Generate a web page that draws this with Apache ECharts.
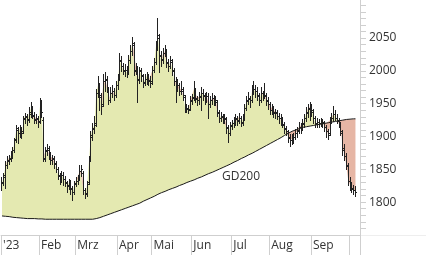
<!DOCTYPE html>
<html>
<head>
<meta charset="utf-8">
<script src="https://cdn.jsdelivr.net/npm/echarts/dist/echarts.min.js"></script>
<style>
html,body{margin:0;padding:0;background:#fff;}
#c{width:426px;height:255px;}
</style>
</head>
<body>
<div id="c"></div>
<script>
// Month labels and trading days per month (Jan 2023 .. early Oct 2023)
const monthLabels = ["'23","Feb","Mrz","Apr","Mai","Jun","Jul","Aug","Sep",""];
const monthDays = [21,20,23,19,22,22,21,23,21,6];

const openVals = [
1822,1830,1838,1857,1862,1866,1872,1880,1896,1910,
1905,1911,1908,1926,1930,1926,1935,1941,1933,1926,
1927,1924,1945,1925,1866,1878,1880,1872,1864,1866,
1858,1850,1840,1834,1842,1835,1829,1826,1829,1820,
1816,1829,1832,1837,1848,1845,1818,1814,1830,1866,
1900,1912,1920,1966,1976,1960,1950,1984,1986,1972,
1956,1966,1969,1964,1979,1990,2015,2007,2000,2002,
1999,2016,2030,2040,2000,2003,1986,2000,1992,1983,
1988,1992,1986,1984,2002,2014,2040,2050,2022,2018,
2028,2030,2012,2008,2014,2000,1984,1976,1978,1970,
1972,1960,1944,1942,1942,1954,1960,1970,1957,1955,
1960,1966,1962,1958,1962,1950,1955,1958,1954,1952,
1936,1928,1930,1926,1926,1914,1906,1916,1920,1922,
1927,1924,1928,1921,1928,1944,1954,1957,1956,1970,
1972,1970,1962,1955,1966,1963,1962,1954,1950,1940,
1942,1936,1936,1932,1928,1924,1918,1912,1906,1898,
1894,1897,1900,1905,1910,1914,1915,1920,1928,1936,
1942,1944,1938,1928,1920,1922,1920,1922,1920,1914,
1908,1905,1925,1928,1934,1928,1924,1918,1905,1880,
1870,1855,1832,1824,1820,1818];

const highVals = [
1838,1845,1862,1870,1872,1878,1884,1898,1918,1915,
1918,1915,1932,1936,1934,1945,1952,1946,1938,1934,
1932,1958,1955,1930,1884,1888,1885,1876,1872,1870,
1862,1854,1845,1848,1846,1840,1832,1836,1834,1825,
1832,1838,1842,1856,1856,1848,1822,1832,1870,1908,
1920,1932,1972,1992,1982,1966,1995,1998,1992,1976,
1975,1978,1974,1985,1995,2028,2022,2012,2010,2008,
2024,2040,2052,2044,2012,2008,2006,2004,1996,1995,
1998,1996,1992,2008,2020,2045,2080,2056,2030,2035,
2040,2034,2018,2022,2018,2004,1990,1988,1982,1985,
1976,1963,1950,1948,1962,1965,1985,1974,1962,1968,
1975,1972,1966,1968,1966,1962,1966,1963,1962,1956,
1940,1938,1935,1934,1930,1918,1922,1925,1930,1935,
1932,1936,1932,1935,1950,1962,1968,1962,1978,1985,
1978,1975,1966,1975,1970,1982,1966,1960,1952,1950,
1946,1942,1940,1936,1934,1930,1922,1916,1910,1904,
1904,1906,1912,1915,1922,1920,1926,1935,1945,1950,
1952,1950,1942,1932,1928,1926,1928,1926,1924,1918,
1912,1930,1936,1946,1940,1934,1928,1922,1910,1888,
1875,1860,1838,1830,1826,1824];

const lowVals = [
1818,1826,1822,1852,1858,1862,1868,1876,1892,1890,
1900,1898,1905,1920,1918,1922,1930,1928,1920,1920,
1915,1920,1930,1862,1862,1872,1866,1858,1858,1852,
1846,1836,1828,1830,1826,1824,1815,1820,1812,1803,
1812,1825,1828,1834,1840,1812,1806,1810,1828,1862,
1894,1905,1916,1960,1940,1935,1946,1970,1968,1950,
1952,1960,1955,1960,1972,1986,2000,1995,1992,1990,
1995,2012,2024,1994,1995,1952,1982,1985,1975,1978,
1980,1978,1975,1980,1998,2010,2032,1998,2008,2012,
2022,2006,2000,2004,1994,1978,1952,1970,1964,1965,
1955,1938,1938,1936,1940,1950,1955,1952,1948,1950,
1940,1956,1950,1952,1928,1945,1950,1948,1948,1932,
1922,1924,1920,1920,1906,1891,1902,1912,1915,1918,
1918,1920,1916,1918,1925,1940,1950,1945,1952,1965,
1960,1955,1948,1952,1955,1958,1948,1942,1934,1935,
1930,1928,1926,1920,1918,1914,1906,1902,1892,1885,
1888,1890,1896,1900,1905,1906,1910,1915,1924,1930,
1925,1932,1920,1914,1915,1914,1916,1914,1908,1900,
1896,1902,1920,1924,1925,1920,1914,1902,1872,1865,
1850,1826,1818,1815,1812,1810];

const closeVals = [
1829,1841,1856,1864,1867,1871,1879,1894,1913,1906,
1913,1905,1928,1932,1925,1937,1943,1932,1925,1928,
1922,1947,1937,1867,1879,1882,1871,1864,1867,1859,
1851,1841,1833,1841,1836,1830,1825,1830,1821,1815,
1828,1833,1836,1848,1851,1818,1813,1828,1864,1902,
1913,1917,1967,1978,1963,1947,1985,1988,1973,1955,
1967,1970,1963,1978,1988,2016,2008,2001,2001,1998,
2016,2031,2043,2001,2004,1988,2001,1993,1982,1988,
1993,1985,1982,2001,2013,2039,2054,2024,2016,2028,
2031,2013,2008,2016,2001,1985,1978,1978,1970,1970,
1963,1943,1943,1941,1955,1958,1973,1958,1955,1961,
1967,1963,1958,1961,1950,1955,1958,1955,1955,1937,
1928,1932,1925,1928,1913,1906,1917,1920,1922,1928,
1925,1929,1922,1928,1943,1955,1958,1955,1970,1973,
1970,1963,1955,1967,1963,1963,1955,1950,1940,1943,
1937,1937,1932,1928,1925,1919,1913,1908,1900,1894,
1897,1899,1905,1909,1915,1915,1919,1928,1937,1943,
1946,1940,1928,1919,1922,1920,1923,1922,1915,1909,
1903,1925,1928,1935,1929,1925,1919,1909,1882,1871,
1856,1833,1824,1821,1818,1816];

const gd200Vals = [
1779,1779,1778.5,1778,1778,1777.5,1777,1777,1776.5,1776,
1776,1776,1775.5,1775.5,1775,1775,1775,1775,1775,1774.5,
1774.5,1774.5,1774.5,1774,1774,1774,1774,1774,1774,1774,
1774,1774,1774,1774,1774,1774,1774,1774,1774,1774,
1774,1774,1774,1774,1774,1774,1774,1774,1774,1774,
1774,1774.5,1775,1775.5,1776.5,1777.5,1778.5,1779.5,1780.5,1781.5,
1782.5,1783.5,1784.5,1785.5,1786.5,1787.5,1788.5,1789.5,1790.5,1791.5,
1792.5,1793.5,1794.5,1795.5,1796.5,1797.5,1798.5,1799.5,1801.5,1803,
1804,1805.5,1806.5,1808,1809,1810.5,1812,1813.5,1814.5,1815.5,
1816.5,1817.5,1819,1820,1821,1822,1823,1824.5,1825.5,1826.5,
1827.5,1828.5,1830,1831,1832,1833,1834,1835,1836.5,1837.5,
1838.5,1840,1841,1842,1843.5,1844.5,1845.5,1847,1848,1849,
1850.5,1851.5,1853,1854,1855.5,1857,1858,1859.5,1861,1862,
1863.5,1865,1866.5,1868,1869,1870.5,1872,1873.5,1874.5,1876,
1877.5,1879,1880.5,1882,1883.5,1885,1886.5,1888,1889.5,1891,
1892.5,1894,1895.5,1897,1898.5,1900,1902,1903.5,1905,1906.5,
1908,1909,1910,1911,1912,1913,1914,1914.5,1915,1915.5,
1916,1916.5,1917,1917.5,1918,1918.5,1919,1919.5,1920,1920.5,
1921,1921.5,1922,1922.5,1923,1923.5,1924,1924.5,1925,1925.5,
1926,1926,1926.5,1926.5,1927,1927];

const yTickLabels = [1800,1850,1900,1950,2000,2050];

// ---- build categories / month starts ----
const categories = [];
const monthStartLabel = {};
let idx = 0;
monthDays.forEach((n, m) => {
  monthStartLabel[idx] = monthLabels[m];
  for (let k = 0; k < n; k++) { categories.push(String(idx)); idx++; }
});

const ohlc = closeVals.map((c, i) => [i, openVals[i], highVals[i], lowVals[i], c]);
const baseVals = closeVals.map((c, i) => Math.min(c, gd200Vals[i]));
const aboveVals = closeVals.map((c, i) => Math.max(c - gd200Vals[i], 0));
const belowVals = closeVals.map((c, i) => Math.max(gd200Vals[i] - c, 0));

const isMonthStart = (i) => Object.prototype.hasOwnProperty.call(monthStartLabel, i);

const chart = echarts.init(document.getElementById('c'), null, {renderer: 'canvas'});
const font = '"Open Sans", "Noto Sans", sans-serif';

chart.setOption({
  animation: false,
  backgroundColor: '#ffffff',
  grid: {left: 0, right: 66, top: 0, bottom: 20, containLabel: false},
  xAxis: {
    type: 'category',
    data: categories,
    boundaryGap: true,
    axisLine: {show: true, lineStyle: {color: '#cfcfcf', width: 1}},
    axisTick: {show: true, length: 20, interval: (i) => isMonthStart(i), lineStyle: {color: '#cfcfcf'}},
    axisLabel: {
      show: true, interval: (i) => isMonthStart(i),
      formatter: (v, i) => monthStartLabel[i] || '',
      align: 'left', margin: 5, padding: [0, 0, 0, 1],
      color: '#333', fontSize: 12, fontFamily: font
    },
    splitLine: {show: false}
  },
  yAxis: {
    type: 'value',
    position: 'right',
    min: 1750, max: 2108, interval: 10,
    axisLine: {show: true, lineStyle: {color: '#cfcfcf', width: 1}},
    axisTick: {show: true, length: 6, lineStyle: {color: '#cfcfcf'}},
    splitLine: {show: false},
    axisLabel: {
      margin: 9, color: '#333', fontSize: 12, fontFamily: font,
      showMinLabel: false, showMaxLabel: false,
      formatter: (v) => yTickLabels.indexOf(v) >= 0 ? String(v) : ''
    }
  },
  series: [
    {type: 'line', stack: 'fill', data: baseVals, showSymbol: false, symbol: 'none',
     lineStyle: {width: 0, opacity: 0}, silent: true, z: 1},
    {type: 'line', stack: 'fill', data: aboveVals, showSymbol: false, symbol: 'none',
     lineStyle: {width: 0, opacity: 0}, areaStyle: {color: '#e4e9b1', opacity: 1}, silent: true, z: 1},
    {type: 'line', stack: 'fill', data: belowVals, showSymbol: false, symbol: 'none',
     lineStyle: {width: 0, opacity: 0}, areaStyle: {color: '#e6b6a5', opacity: 1}, silent: true, z: 1},
    {type: 'line', data: gd200Vals, showSymbol: false, symbol: 'none',
     lineStyle: {color: '#1a1a1a', width: 1}, silent: true, z: 3},
    {type: 'custom', data: ohlc, encode: {x: 0, y: [1, 2, 3, 4]}, clip: true, z: 4, silent: true,
     renderItem: function (params, api) {
       const i = api.value(0);
       const pO = api.coord([i, api.value(1)]);
       const pH = api.coord([i, api.value(2)]);
       const pL = api.coord([i, api.value(3)]);
       const pC = api.coord([i, api.value(4)]);
       const x = Math.floor(pO[0]) + 0.5;
       const yo = Math.round(pO[1]) + 0.5;
       const yc = Math.round(pC[1]) + 0.5;
       const st = {stroke: '#222', lineWidth: 1};
       return {type: 'group', children: [
         {type: 'line', shape: {x1: x, y1: Math.round(pH[1]), x2: x, y2: Math.round(pL[1]) + 1}, style: st},
         {type: 'line', shape: {x1: x - 1.5, y1: yo, x2: x, y2: yo}, style: st},
         {type: 'line', shape: {x1: x, y1: yc, x2: x + 1.5, y2: yc}, style: st}
       ]};
     }}
  ],
  graphic: [
    {type: 'text', left: 222, top: 171, silent: true,
     style: {text: 'GD200', fill: '#333', font: '12px ' + font}},
    {type: 'line', silent: true, shape: {x1: 360.5, y1: 235, x2: 360.5, y2: 255},
     style: {stroke: '#cfcfcf', lineWidth: 1}},
    {type: 'line', silent: true, shape: {x1: 360, y1: 235.5, x2: 426, y2: 235.5},
     style: {stroke: '#eeeeee', lineWidth: 1}}
  ]
});
</script>
</body>
</html>
